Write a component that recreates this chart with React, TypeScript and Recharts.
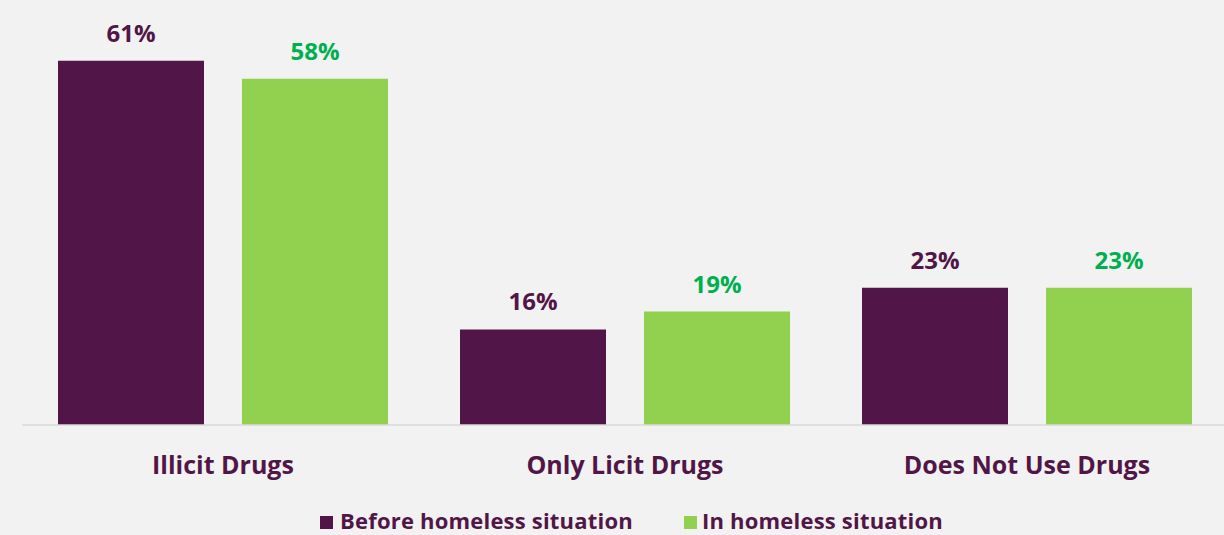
import React from "react";
import { BarChart, Bar, XAxis, YAxis, LabelList } from "recharts";

const categories = ["Illicit Drugs", "Only Licit Drugs", "Does Not Use Drugs"];
const beforeValues = [61, 16, 23];
const inValues = [58, 19, 23];
const seriesNames = ["Before homeless situation", "In homeless situation"];

const data = categories.map((c, i) => ({ name: c, before: beforeValues[i], during: inValues[i] }));

const PURPLE = "#511647";
const GREEN_BAR = "#92d050";
const GREEN_TEXT = "#00b050";
const FONT = "'Open Sans', 'Noto Sans', sans-serif";

const makeLabel = (color: string) => (props: any) => {
  const { x, y, width, value } = props;
  return (
    <text
      x={x + width / 2}
      y={y - 19}
      textAnchor="middle"
      fill={color}
      fontSize={24}
      fontWeight={700}
      fontFamily={FONT}
    >
      {value}%
    </text>
  );
};

const Tick = (props: any) => {
  const { x, payload } = props;
  return (
    <text x={x} y={474} textAnchor="middle" fill={PURPLE} fontSize={25} fontWeight={700} fontFamily={FONT}>
      {payload.value}
    </text>
  );
};

export default function App() {
  return (
    <div style={{ position: "fixed", left: 0, top: 0, width: 1224, height: 535, background: "#f2f2f2", overflow: "hidden" }}>
      <BarChart
        width={1228}
        height={535}
        data={data}
        margin={{ top: 7, right: 0, left: 22, bottom: 80 }}
        barGap={38}
        barCategoryGap={36}
      >
        <XAxis
          dataKey="name"
          height={30}
          axisLine={{ stroke: "#d9d9d9", strokeWidth: 1.5 }}
          tickLine={false}
          tick={<Tick />}
          interval={0}
        />
        <YAxis hide domain={[0, 70]} />
        <Bar dataKey="before" name={seriesNames[0]} fill={PURPLE} barSize={146} isAnimationActive={false}>
          <LabelList dataKey="before" content={makeLabel(PURPLE)} />
        </Bar>
        <Bar dataKey="during" name={seriesNames[1]} fill={GREEN_BAR} barSize={146} isAnimationActive={false}>
          <LabelList dataKey="during" content={makeLabel(GREEN_TEXT)} />
        </Bar>
      </BarChart>
      <div style={{ position: "absolute", left: 0, top: 510, width: 1224, height: 30, fontFamily: FONT, fontWeight: 700, fontSize: 22, color: PURPLE }}>
        <div style={{ position: "absolute", left: 320, top: 6, width: 13, height: 13, background: PURPLE }} />
        <div style={{ position: "absolute", left: 340, top: -5, whiteSpace: "nowrap", letterSpacing: 0.2 }}>{seriesNames[0]}</div>
        <div style={{ position: "absolute", left: 684, top: 6, width: 13, height: 13, background: GREEN_BAR }} />
        <div style={{ position: "absolute", left: 702, top: -5, whiteSpace: "nowrap", letterSpacing: 0.2 }}>{seriesNames[1]}</div>
      </div>
    </div>
  );
}
